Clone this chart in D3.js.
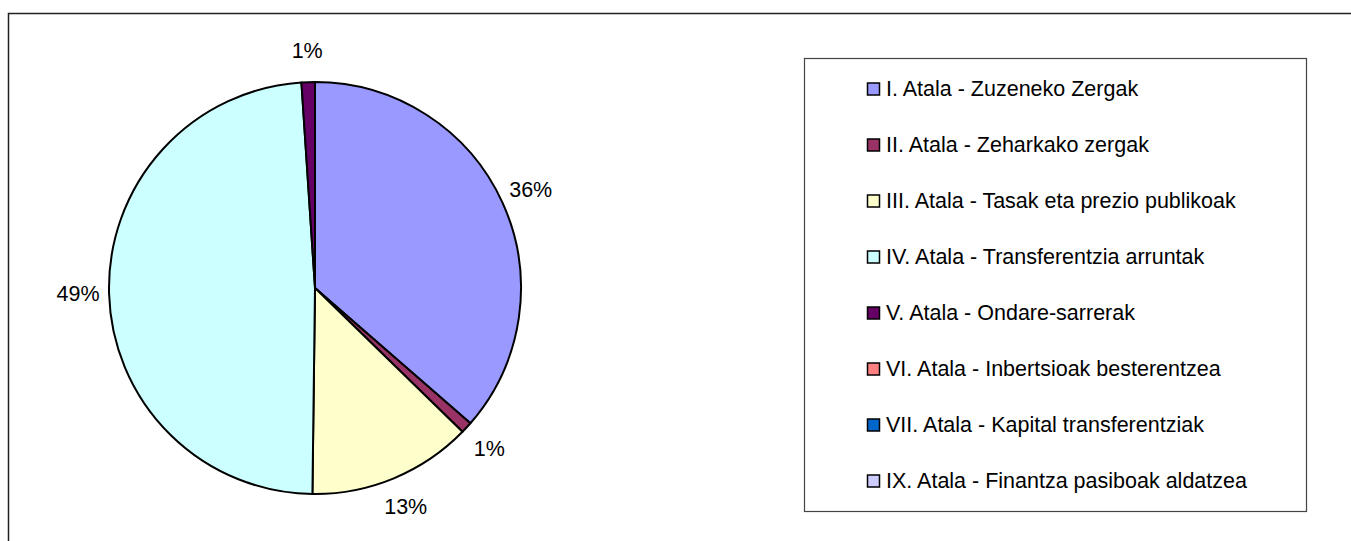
<!DOCTYPE html>
<html><head><meta charset="utf-8">
<script src="https://cdn.jsdelivr.net/npm/d3@7"></script>
<style>body{margin:0;background:#fff;}svg{display:block;font-family:Arial,"Liberation Sans",sans-serif;}</style>
</head><body>
<script>
const categories = [
  "I. Atala - Zuzeneko Zergak",
  "II. Atala - Zeharkako zergak",
  "III. Atala - Tasak eta prezio publikoak",
  "IV. Atala - Transferentzia arruntak",
  "V. Atala - Ondare-sarrerak",
  "VI. Atala - Inbertsioak besterentzea",
  "VII. Atala - Kapital transferentziak",
  "IX. Atala - Finantza pasiboak aldatzea"
];
const values = [36.4, 0.9, 12.9, 48.75, 1.05, 0, 0, 0];
const labels = ["36%", "1%", "13%", "49%", "1%", "", "", ""];
const colors = ["#9999FF", "#993366", "#FFFFCC", "#CCFFFF", "#660066", "#FF8080", "#0066CC", "#CCCCFF"];

const W = 1351, H = 541;
const svg = d3.select("body").append("svg").attr("width", W).attr("height", H);

svg.append("rect").attr("x", 8.5).attr("y", 13.5).attr("width", 1500).attr("height", 800)
  .attr("fill", "#fff").attr("stroke", "#222").attr("stroke-width", 1.5);

const cx = 315, cy = 288, R = 206;
const pie = d3.pie().sort(null).value(d => d.v);
const data = pie(values.map((v, i) => ({v, i})));
const arc = d3.arc().innerRadius(0).outerRadius(R);
const g = svg.append("g").attr("transform", `translate(${cx},${cy})`);
g.selectAll("path").data(data.filter(d => d.data.v > 0)).join("path")
  .attr("d", arc).attr("fill", d => colors[d.data.i])
  .attr("stroke", "#000").attr("stroke-width", 2).attr("stroke-linejoin", "round");

const labelArc = d3.arc().innerRadius(237).outerRadius(237);
g.selectAll("text").data(data.filter(d => d.data.v > 0)).join("text")
  .attr("transform", d => { const [x, y] = labelArc.centroid(d); return `translate(${x},${y})`; })
  .attr("text-anchor", "middle").attr("dominant-baseline", "central")
  .attr("font-size", 21.5).attr("fill", "#000")
  .text(d => labels[d.data.i]);

// legend
const lx = 804, ly = 58, lw = 502, lh = 453;
svg.append("rect").attr("x", lx + 0.5).attr("y", ly + 0.5).attr("width", lw).attr("height", lh)
  .attr("fill", "#fff").attr("stroke", "#444").attr("stroke-width", 1.2);
const yL = d3.scalePoint().domain(categories).range([89, 481]);
const lg = svg.append("g");
categories.forEach((c, i) => {
  const y = yL(c);
  lg.append("rect").attr("x", 867.5).attr("y", y - 6).attr("width", 12).attr("height", 12)
    .attr("fill", colors[i]).attr("stroke", "#000").attr("stroke-width", 1.5);
  lg.append("text").attr("x", 886).attr("y", y).attr("dominant-baseline", "central")
    .attr("font-size", 21.5).attr("fill", "#000").text(c);
});
</script>
</body></html>
